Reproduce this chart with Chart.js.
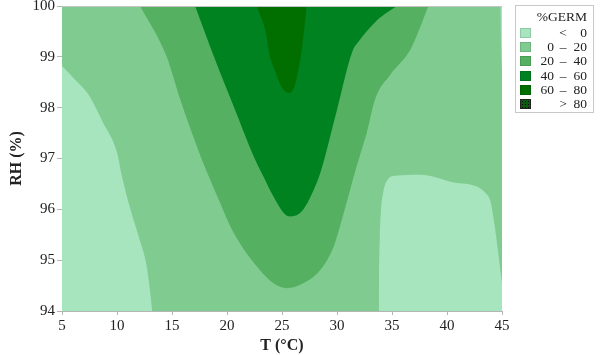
<!DOCTYPE html>
<html>
<head>
<meta charset="utf-8">
<script src="https://cdn.jsdelivr.net/npm/chart.js@4/dist/chart.umd.min.js"></script>
<style>
html,body{margin:0;padding:0;background:#fff;}
#wrap{position:relative;width:600px;height:355px;overflow:hidden;}
#legend{position:absolute;left:515px;top:5px;width:79px;height:108px;border:1px solid #c8c8c8;box-sizing:border-box;
  font-family:'Liberation Serif','Times New Roman',serif;font-size:13.5px;color:#222;}
#legend .t{position:absolute;right:6px;top:4px;line-height:14px;}
#legend .row{position:absolute;left:0;width:77px;height:14px;line-height:14px;}
#legend .sw{position:absolute;left:4px;top:2px;width:11px;height:10px;box-sizing:border-box;border:1px solid rgba(0,0,0,0.12);}
#legend .a{position:absolute;right:39px;top:0;text-align:right;}
#legend .d{position:absolute;left:40px;width:14px;top:0;text-align:center;}
#legend .b{position:absolute;right:6px;top:0;text-align:right;}
</style>
</head>
<body>
<div id="wrap">
<canvas id="c" width="600" height="355"></canvas>
<div id="legend"></div>
</div>
<script>
// ---- data (T in °C, RH in %) ----
const tempRange = [5, 45];
const rhRange = [94, 100];
const legendTitle = '%GERM';
const legendLow = ['', '0', '20', '40', '60', ''];
const legendSep = ['<', '–', '–', '–', '–', '>'];
const legendHigh = ['0', '20', '40', '60', '80', '80'];
const levelColors = ['#a6e5bd', '#80cc90', '#55b061', '#008221', '#006f00', '#0c5a10'];

// contour boundaries [T, RH]
const below0Left = [[5,98.82],[6.2,98.55],[7.4,98.26],[8.7,97.72],[10,97.12],[10.45,96.65],[11.05,96.13],[11.96,95.47],[12.7,94.88],[13.0,94.4],[13.2,94.0]];
const below0Right = [[33.8,94.0],[33.82,94.6],[33.9,95.5],[33.98,95.93],[34.2,96.33],[34.6,96.58],[35.3,96.66],[37.6,96.68],[40.6,96.53],[42.7,96.45],[43.5,96.32],[43.95,96.16],[44.25,95.8],[45,94.55]];
const below0Edge = [[44.85,100],[44.9,99.4],[45,98.72]];
const edge20 = [[12.1,100],[14.5,99.01],[15.75,98.16],[17.6,97.04],[18.2,96.72],[19.1,96.26],[20.6,95.54],[22.7,94.88],[24.2,94.55],[25.45,94.45],[26.7,94.52],[28.5,94.81],[29.7,95.27],[30.45,95.8],[31.7,96.78],[32.7,97.5],[33.5,98.19],[34.85,98.65],[36.67,99.14],[37.6,99.6],[38.3,100]];
const edge40 = [[17.1,100],[18.8,99.01],[20.6,98.03],[22.7,96.91],[23.3,96.65],[24.2,96.26],[25.15,95.93],[25.75,95.86],[26.8,95.96],[27.9,96.39],[28.6,96.8],[30.0,97.96],[31.36,99.08],[32.1,99.34],[32.85,99.54],[33.9,99.77],[35.45,100]];
const edge60 = [[22.7,100],[23.5,99.5],[23.9,99.01],[24.4,98.7],[24.85,98.45],[25.3,98.32],[25.7,98.29],[26.1,98.4],[26.35,98.6],[26.8,99.14],[27.25,100]];

const FONT = "'Liberation Serif','Times New Roman',serif";

function region(pts, fill, color, order) {
  return {
    data: pts.map(p => ({x: p[0], y: p[1]})),
    showLine: true, fill: fill, backgroundColor: color,
    borderColor: 'rgba(0,0,0,0)', borderWidth: 0, pointRadius: 0, pointHoverRadius: 0,
    cubicInterpolationMode: 'monotone', order: order
  };
}

const bgPlugin = {
  id: 'bg',
  beforeDatasetsDraw(chart) {
    const {ctx, chartArea: a} = chart;
    ctx.save();
    ctx.fillStyle = levelColors[1];
    ctx.fillRect(a.left, a.top, a.right - a.left, a.bottom - a.top);
    ctx.restore();
  },
  afterDatasetsDraw(chart) {
    const {ctx, chartArea: a} = chart;
    ctx.save();
    ctx.strokeStyle = '#c4c4c4';
    ctx.lineWidth = 1;
    ctx.beginPath();
    ctx.moveTo(a.left, a.top + 0.5);
    ctx.lineTo(a.right, a.top + 0.5);
    ctx.stroke();
    ctx.restore();
  }
};

new Chart(document.getElementById('c'), {
  type: 'scatter',
  data: {
    datasets: [
      region(edge60, 'end', levelColors[4], 1),
      region(edge40, 'end', levelColors[3], 2),
      region(edge20, 'end', levelColors[2], 3),
      region(below0Left, 'start', levelColors[0], 4),
      region(below0Right, 'start', levelColors[0], 5),
      region(below0Edge, 'end', levelColors[0], 6)
    ]
  },
  options: {
    responsive: false,
    animation: false,
    events: [],
    layout: {padding: {left: 0, right: 98, top: 6, bottom: 0}},
    plugins: {legend: {display: false}, tooltip: {enabled: false}},
    scales: {
      x: {
        type: 'linear', min: tempRange[0], max: tempRange[1],
        ticks: {stepSize: 5, color: '#222', font: {family: FONT, size: 15}, padding: 2},
        grid: {display: true, drawOnChartArea: false, drawTicks: true, tickLength: 4, color: '#b5b5b5'},
        border: {display: true, color: '#b5b5b5'},
        title: {display: true, text: 'T (°C)', color: '#222', font: {family: FONT, size: 16, weight: 'bold'}, padding: {top: 2, bottom: 0}},
        afterFit(s) { s.height = 44; s.paddingLeft = 0; s.paddingRight = 0; }
      },
      y: {
        type: 'linear', min: rhRange[0], max: rhRange[1],
        ticks: {stepSize: 1, color: '#222', font: {family: FONT, size: 15}, padding: 2},
        grid: {display: true, drawOnChartArea: false, drawTicks: true, tickLength: 5, color: '#b5b5b5'},
        border: {display: true, color: '#b5b5b5'},
        title: {display: true, text: 'RH (%)', color: '#222', font: {family: FONT, size: 16, weight: 'bold'}, padding: {top: 7, bottom: 0}},
        afterFit(s) { s.width = 62; s.paddingTop = 0; s.paddingBottom = 0; }
      }
    }
  },
  plugins: [bgPlugin]
});

// legend
const lg = document.getElementById('legend');
const t = document.createElement('div');
t.className = 't'; t.textContent = legendTitle; lg.appendChild(t);
for (let i = 0; i < legendHigh.length; i++) {
  const r = document.createElement('div');
  r.className = 'row';
  r.style.top = (20 + i * 14.2) + 'px';
  const sw = document.createElement('div');
  sw.className = 'sw';
  sw.style.background = levelColors[i];
  if (i === legendHigh.length - 1) {
    sw.style.background = 'radial-gradient(circle, #000 0.5px, transparent 0.8px) 0 0/3px 3px, ' + levelColors[i];
    sw.style.border = '1px solid #222';
  }
  r.appendChild(sw);
  const a = document.createElement('span'); a.className = 'a'; a.textContent = legendLow[i]; r.appendChild(a);
  const d = document.createElement('span'); d.className = 'd'; d.textContent = legendSep[i]; r.appendChild(d);
  const b = document.createElement('span'); b.className = 'b'; b.textContent = legendHigh[i]; r.appendChild(b);
  lg.appendChild(r);
}
</script>
</body>
</html>
